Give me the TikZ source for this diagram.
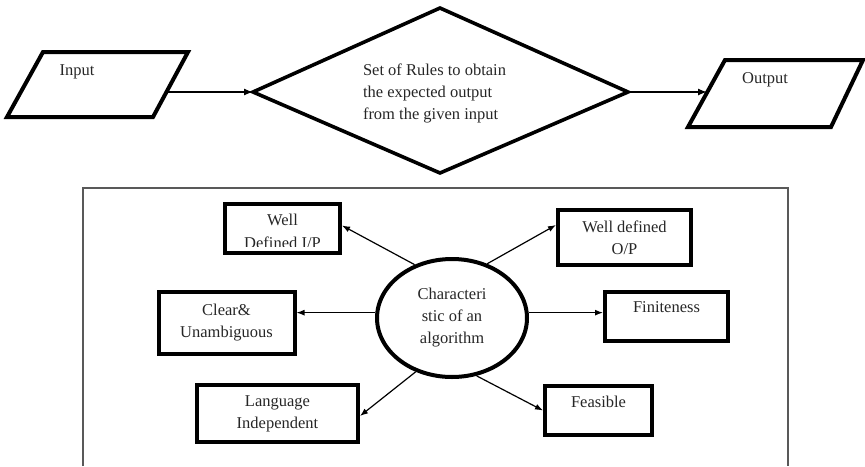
\documentclass[tikz,border=0pt]{standalone}
\usepackage{fontspec}
\setmainfont{Liberation Serif}
\usetikzlibrary{arrows.meta,shapes.geometric}

\begin{document}
\begin{tikzpicture}[x=1pt,y=-1pt,
  every node/.style={font=\fontsize{16.5}{22}\selectfont, text=black!85},
  heavy/.style={line width=4pt, line join=miter},
  charbox/.style={draw, line width=4pt, rectangle, inner sep=0pt, align=center},
  link/.style={line width=1.2pt, -{Latex[length=8pt,width=6pt]}},
  flow/.style={line width=1.3pt, -{Latex[length=9pt,width=7pt]}},
]
\useasboundingbox (0,0) rectangle (865,466);

% ---------- upper flow: input -> rules -> output ----------
% input parallelogram
\draw[heavy] (43,52) -- (188,52) -- (153,117) -- (7,117) -- cycle;
\node (in-t) at (77,72) {Input};
\coordinate (in-r) at (166,92);

% decision diamond
\draw[line width=3.6pt, line join=miter] (440,8) -- (628,92) -- (440,173) -- (253,92) -- cycle;
\coordinate (dl) at (253,92);
\coordinate (dr) at (628,92);
\node[align=left] (rules) at (434.5,93) {Set of Rules to obtain\\the expected output\\from the given input};

% output parallelogram
\draw[heavy] (725,60) -- (863,60) -- (831,127) -- (688,127) -- cycle;
\node (out-t) at (765,80) {Output};
\coordinate (out-l) at (707,92);

\draw[flow] (in-r) -- (dl);
\draw[flow] (dr) -- (out-l);

% ---------- lower panel: characteristics ----------
\draw[line width=1.6pt, draw=black!65] (83,466) -- (83,188) -- (788,188) -- (788,466);

\node[draw, ellipse, line width=4pt, inner sep=0pt, minimum width=150pt, minimum height=118pt, align=center] (ell) at (452,318) {Characteri\\stic of an\\algorithm};

% box whose second text line is cut by its lower border
\begin{scope}
  \clip (225,204) rectangle (340,246.5);
  \node[anchor=base] (wdi-t1) at (282.5,225) {Well};
  \node[anchor=base] (wdi-t2) at (282.5,248) {Defined I/P};
\end{scope}
\node[charbox, minimum width=115pt, minimum height=49pt] (wdi) at (282.5,228.5) {};

\node[charbox, minimum width=133pt, minimum height=55pt] (wdo) at (624.5,237.5) {Well defined\\O/P};
\node[charbox, minimum width=136pt, minimum height=62pt] (clr) at (226.5,322.5) {Clear\&\\Unambiguous};
\node[charbox, minimum width=123pt, minimum height=49pt] (fin) at (666.5,316.5) {Finiteness\\[-4pt]~};
\node[charbox, minimum width=161pt, minimum height=57pt] (lng) at (277.5,413.5) {Language\\Independent};
\node[charbox, minimum width=107pt, minimum height=49pt] (fea) at (598.5,410.5) {Feasible\\[-4pt]~};

\draw[link] (ell.125) -- ([yshift=3pt]wdi.east);
\draw[link] (ell.57) -- ([yshift=12.5pt]wdo.west);
\draw[link] (ell.176) -- (ell.176 -| clr.east);
\draw[link] (ell.4) -- (ell.4 -| fin.west);
\draw[link] (ell.236) -- ([yshift=-2.5pt]lng.east);
\draw[link] (ell.293) -- (fea.west);
\end{tikzpicture}
\end{document}
